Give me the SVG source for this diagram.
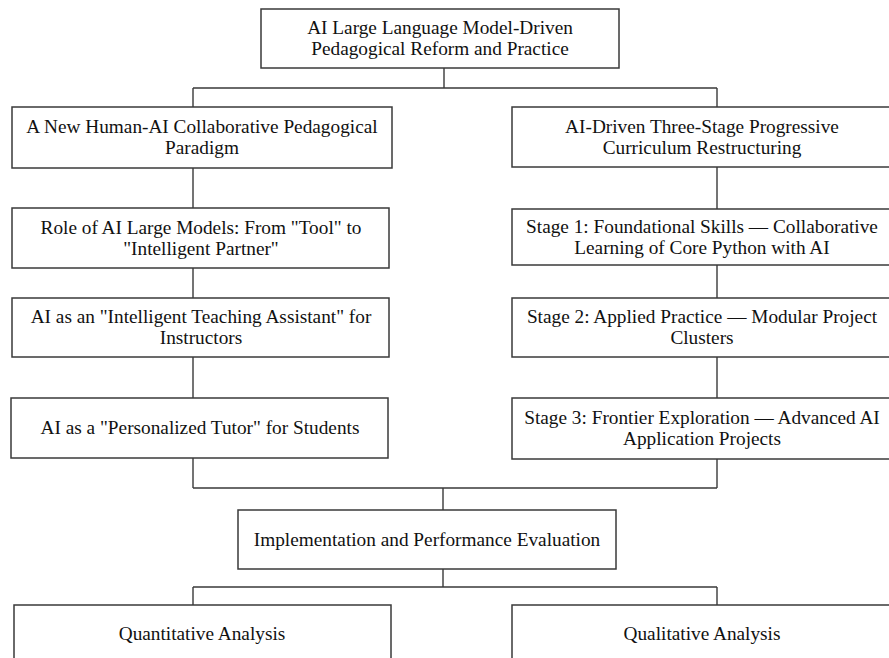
<svg xmlns="http://www.w3.org/2000/svg" width="889" height="658" viewBox="0 0 889 658">
<style>
.box{fill:#ffffff;stroke:#3a3a3a;stroke-width:1.5}
.t{font-family:"Liberation Serif","Times New Roman",serif;font-size:19.3px;fill:#111;text-anchor:middle}
.c{fill:none;stroke:#3a3a3a;stroke-width:1.4}
</style>
<rect width="889" height="658" fill="#ffffff"/>
<g id="connectors">
<path class="c" d="M444 68V88M193 88H717M193 88V107M717 88V107"/>
<path class="c" d="M193 168V208M193 268V298M193 357V398"/>
<path class="c" d="M717 167V209M717 265V298M717 357V398"/>
<path class="c" d="M193 458V488M717 459V488M193 488H717M443 488V510"/>
<path class="c" d="M443 569V587M193 587H717M193 587V605M717 587V605"/>
</g>
<g id="root"><rect class="box" x="261" y="9" width="358" height="59"/>
<text class="t" x="440" y="34">AI Large Language Model-Driven</text><text class="t" x="440" y="55">Pedagogical Reform and Practice</text></g>
<g id="left1"><rect class="box" x="12" y="107" width="380" height="61"/>
<text class="t" x="202" y="133">A New Human-AI Collaborative Pedagogical</text><text class="t" x="202" y="154">Paradigm</text></g>
<g id="left2"><rect class="box" x="12" y="208" width="377" height="60"/>
<text class="t" x="201" y="234">Role of AI Large Models: From "Tool" to</text><text class="t" x="201" y="255">"Intelligent Partner"</text></g>
<g id="left3"><rect class="box" x="12" y="298" width="377" height="59"/>
<text class="t" x="201" y="323">AI as an "Intelligent Teaching Assistant" for</text><text class="t" x="201" y="344">Instructors</text></g>
<g id="left4"><rect class="box" x="11" y="398" width="377" height="60"/>
<text class="t" x="200" y="434">AI as a "Personalized Tutor" for Students</text></g>
<g id="right1"><rect class="box" x="512" y="107" width="380" height="60"/>
<text class="t" x="702" y="133">AI-Driven Three-Stage Progressive</text><text class="t" x="702" y="154">Curriculum Restructuring</text></g>
<g id="right2"><rect class="box" x="512" y="209" width="380" height="56"/>
<text class="t" x="702" y="233">Stage 1: Foundational Skills — Collaborative</text><text class="t" x="702" y="254">Learning of Core Python with AI</text></g>
<g id="right3"><rect class="box" x="512" y="298" width="380" height="59"/>
<text class="t" x="702" y="323">Stage 2: Applied Practice — Modular Project</text><text class="t" x="702" y="344">Clusters</text></g>
<g id="right4"><rect class="box" x="512" y="398" width="380" height="61"/>
<text class="t" x="702" y="424">Stage 3: Frontier Exploration — Advanced AI</text><text class="t" x="702" y="445">Application Projects</text></g>
<g id="impl"><rect class="box" x="238" y="510" width="378" height="59"/>
<text class="t" x="427" y="546">Implementation and Performance Evaluation</text></g>
<g id="quant"><rect class="box" x="14" y="605" width="377" height="70"/>
<text class="t" x="202" y="640">Quantitative Analysis</text></g>
<g id="qual"><rect class="box" x="512" y="605" width="380" height="70"/>
<text class="t" x="702" y="640">Qualitative Analysis</text></g>
</svg>
